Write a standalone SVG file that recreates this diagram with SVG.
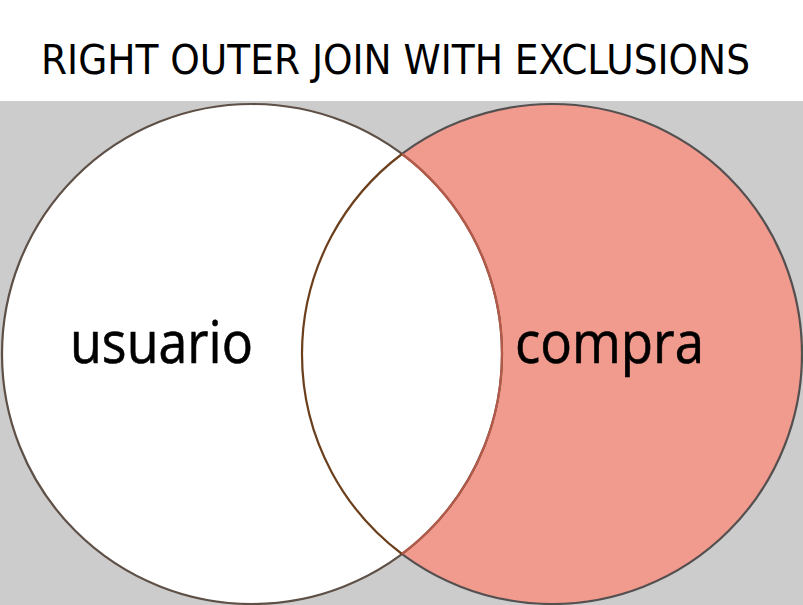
<svg xmlns="http://www.w3.org/2000/svg" width="803" height="605" viewBox="0 0 803 605">
<style>
.title{font-family:"DejaVu Sans Condensed","DejaVu Sans",sans-serif;font-size:41px;fill:#000}
.lbl{font-family:"Open Sans","Noto Sans",sans-serif;font-size:59px;fill:#000;stroke:#000;stroke-width:0.6}
</style>
<rect x="0" y="0" width="803" height="101" fill="#ffffff"/>
<rect x="0" y="101" width="803" height="504" fill="#cccccc"/>
<text class="title" x="41" y="74" textLength="709" lengthAdjust="spacingAndGlyphs">RIGHT OUTER JOIN WITH EXCLUSIONS</text>
<g id="compra">
<circle cx="552" cy="354" r="250" fill="#f19a8e" stroke="#555050" stroke-width="2.2"/>
</g>
<g id="usuario">
<circle cx="252" cy="354" r="250" fill="#ffffff" stroke="#5e5046" stroke-width="2.2"/>
</g>
<g id="overlap">
<path d="M402,154 A250,250 0 0 0 402,554" fill="none" stroke="#6b3e1c" stroke-width="2.2"/>
<path d="M402,154 A250,250 0 0 1 402,554" fill="none" stroke="#b55a48" stroke-width="2.2"/>
</g>
<text class="lbl" x="70" y="363" textLength="183" lengthAdjust="spacingAndGlyphs">usuario</text>
<text class="lbl" x="515" y="363" textLength="189" lengthAdjust="spacingAndGlyphs">compra</text>
</svg>
